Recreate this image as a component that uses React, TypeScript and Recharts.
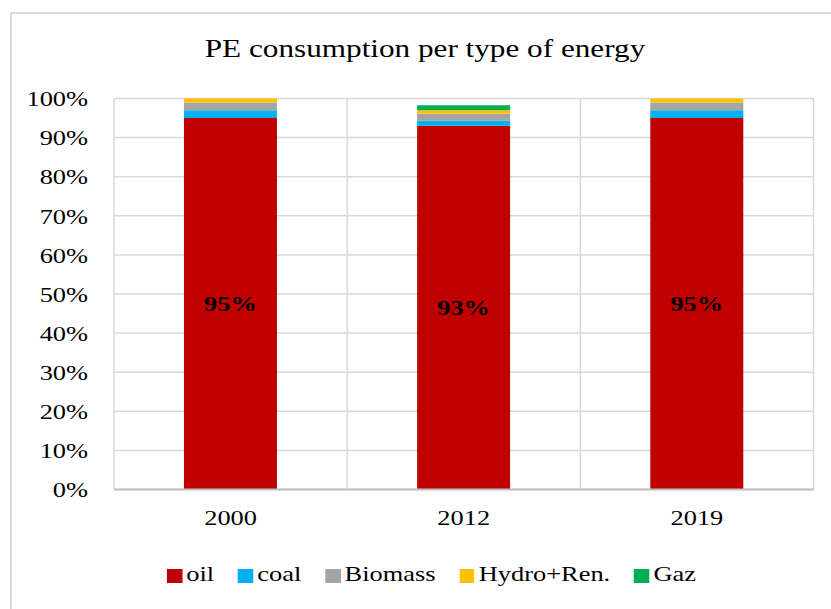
import React from "react";
import {
  BarChart,
  Bar,
  XAxis,
  YAxis,
  CartesianGrid,
  Legend,
  LabelList,
} from "recharts";

const years = ["2000", "2012", "2019"];
const oil = [95, 93, 95];
const coal = [2, 1.3, 2];
const biomass = [2, 1.8, 2];
const hydro = [1, 0.9, 1];
const gaz = [0, 1.3, 0];

const yTicks = [0, 10, 20, 30, 40, 50, 60, 70, 80, 90, 100];

const seriesNames = ["oil", "coal", "Biomass", "Hydro+Ren.", "Gaz"];
const seriesKeys = ["oil", "coal", "biomass", "hydro", "gaz"];
const seriesColors = ["#c00000", "#00b0f0", "#a5a5a5", "#ffc000", "#00b050"];

const data = years.map((year, i) => ({
  year,
  oil: oil[i],
  coal: coal[i],
  biomass: biomass[i],
  hydro: hydro[i],
  gaz: gaz[i],
}));

const FONT = '"Liberation Serif", "Times New Roman", serif';
const SX = 1.2;

const YTick = (props: any) => {
  const { x, y, payload } = props;
  return (
    <text
      transform={`translate(${x},${y}) scale(${SX},1)`}
      textAnchor="end"
      dy="0.35em"
      fontFamily={FONT}
      fontSize={22}
      fill="#000"
    >
      {`${payload.value}%`}
    </text>
  );
};

const XTick = (props: any) => {
  const { x, y, payload } = props;
  return (
    <text
      transform={`translate(${x},${y}) scale(${SX},1)`}
      textAnchor="middle"
      dy="0.71em"
      fontFamily={FONT}
      fontSize={22}
      fill="#000"
    >
      {payload.value}
    </text>
  );
};

const OilLabel = (props: any) => {
  const x = Number(props.x);
  const y = Number(props.y);
  const w = Number(props.width);
  const h = Number(props.height);
  const cx = x + w / 2;
  const cy = y + h / 2;
  return (
    <text
      transform={`translate(${cx},${cy}) scale(${SX},1)`}
      textAnchor="middle"
      dy="0.35em"
      fontFamily={FONT}
      fontWeight="bold"
      fontSize={22}
      fill="#000"
    >
      {`${Math.round(Number(props.value))}%`}
    </text>
  );
};

const LegendContent = () => (
  <div
    style={{
      display: "flex",
      justifyContent: "center",
      alignItems: "flex-end",
      transform: `scaleX(${SX})`,
      transformOrigin: "center",
      fontFamily: FONT,
      fontSize: 22,
      color: "#000",
      lineHeight: "24px",
    }}
  >
    {seriesNames.map((name, i) => (
      <div
        key={name}
        style={{
          display: "flex",
          alignItems: "center",
          marginRight: i < seriesNames.length - 1 ? 20 : 0,
        }}
      >
        <span
          style={{
            display: "inline-block",
            width: 12.5,
            height: 14,
            background: seriesColors[i],
            marginRight: 3.5,
            marginTop: 4,
          }}
        />
        <span>{name}</span>
      </div>
    ))}
  </div>
);

export default function App() {
  return (
    <div
      style={{
        position: "absolute",
        left: 0,
        top: 0,
        width: 831,
        height: 609,
        overflow: "hidden",
        background: "#fff",
      }}
    >
      <div
        style={{
          position: "absolute",
          left: 10,
          top: 12,
          width: 900,
          height: 700,
          border: "2px solid #d9d9d9",
          boxSizing: "border-box",
        }}
      />
      <div
        style={{
          position: "absolute",
          left: 0,
          top: 36,
          width: 850,
          textAlign: "center",
          fontFamily: FONT,
          fontSize: 26,
          lineHeight: "26px",
          transform: `scaleX(${SX})`,
          transformOrigin: "center",
          color: "#000",
        }}
      >
        PE consumption per type of energy
      </div>
      <div style={{ position: "absolute", left: 0, top: 0 }}>
        <BarChart
          width={831}
          height={609}
          data={data}
          margin={{ top: 98.5, right: 17.5, left: 12, bottom: 79.5 }}
          barCategoryGap="30%"
        >
          <CartesianGrid
            stroke="#d9d9d9"
            strokeWidth={1.5}
            verticalCoordinatesGenerator={(p: any) => {
              const off = p.offset;
              return [0, 1, 2, 3].map((i) => off.left + (off.width * i) / 3);
            }}
          />
          <XAxis
            dataKey="year"
            height={40}
            tick={<XTick />}
            tickLine={false}
            tickSize={6}
            tickMargin={14}
            axisLine={{ stroke: "#bfbfbf", strokeWidth: 2 }}
          />
          <YAxis
            width={102}
            domain={[0, 100]}
            ticks={yTicks}
            interval={0}
            tick={<YTick />}
            tickLine={false}
            tickSize={6}
            tickMargin={20}
            axisLine={false}
          />
          <Legend
            layout="horizontal"
            verticalAlign="middle"
            align="center"
            wrapperStyle={{ top: 562, left: 16, width: 831 }}
            content={<LegendContent />}
          />
          {seriesKeys.map((k, i) => (
            <Bar
              key={k}
              dataKey={k}
              name={seriesNames[i]}
              stackId="a"
              fill={seriesColors[i]}
              isAnimationActive={false}
            >
              {k === "oil" ? (
                <LabelList dataKey="oil" content={<OilLabel />} />
              ) : null}
            </Bar>
          ))}
        </BarChart>
      </div>
    </div>
  );
}
